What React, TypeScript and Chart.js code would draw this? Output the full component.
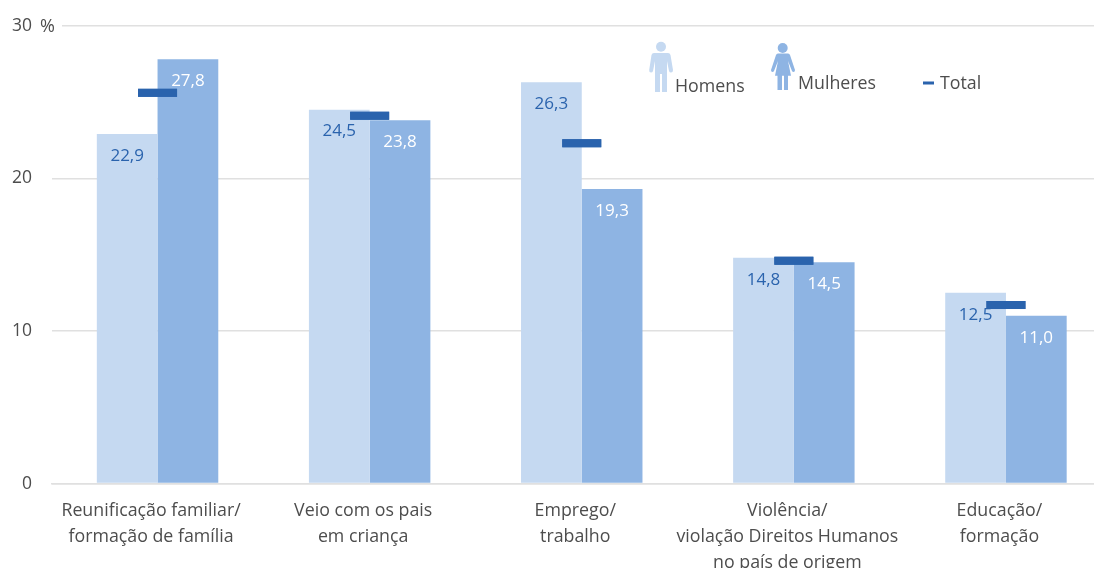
import React, { useEffect, useRef } from "react";
import { Chart, registerables } from "chart.js";

Chart.register(...registerables);

const categories = [
  ["Reunificação familiar/", "formação de família"],
  ["Veio com os pais", "em criança"],
  ["Emprego/", "trabalho"],
  ["Violência/", "violação Direitos Humanos", "no país de origem"],
  ["Educação/", "formação"],
];
const homens = [22.9, 24.5, 26.3, 14.8, 12.5];
const mulheres = [27.8, 23.8, 19.3, 14.5, 11.0];
const total = [25.6, 24.1, 22.3, 14.6, 11.7];
const yTicks = [0, 10, 20, 30];

const FONT = '"Open Sans", sans-serif';
const TEXT = "#4d4d4d";
const LIGHT = "#c5d9f1";
const MID = "#8eb4e3";
const DARK = "#2a63ad";
const GRID = "#e0e0e0";

const fmt = (v: number) => v.toFixed(1).replace(".", ",");

const decorations = {
  id: "decorations",
  afterDraw(chart: any) {
    const { ctx } = chart;
    ctx.save();
    // value labels inside the bars
    [0, 1].forEach((i) => {
      const meta = chart.getDatasetMeta(i);
      const data = chart.data.datasets[i].data as number[];
      ctx.font = `17px ${FONT}`;
      ctx.textAlign = "center";
      ctx.textBaseline = "middle";
      ctx.fillStyle = i === 0 ? DARK : "#ffffff";
      meta.data.forEach((el: any, k: number) => {
        ctx.fillText(fmt(data[k]), el.x, el.y + 22);
      });
    });
    // re-draw total markers on top of the labels
    const tm = chart.getDatasetMeta(2);
    tm.data.forEach((el: any) => {
      ctx.fillStyle = DARK;
      ctx.fillRect(el.x - 19.5, el.y - 4, 39, 8);
    });
    // percent sign on the top tick
    const yTop = chart.scales.y.getPixelForValue(30);
    ctx.fillStyle = "#ffffff";
    ctx.fillRect(36, yTop - 3, 26, 6);
    ctx.fillStyle = TEXT;
    ctx.font = `18px ${FONT}`;
    ctx.textAlign = "left";
    ctx.textBaseline = "middle";
    ctx.fillText("%", 40, yTop + 1);

    // legend
    ctx.fillStyle = LIGHT;
    ctx.beginPath();
    ctx.arc(661, 46.7, 5, 0, Math.PI * 2);
    ctx.fill();
    ctx.fill(new Path2D("M654 53 H668 Q670 53 670.5 55 L673 70 Q673 72.5 671 72.5 Q669.5 72.5 669 71 L667 61 V92 H662 V74 H660 V92 H655 V61 L653 71 Q652.5 72.5 651 72.5 Q649 72.5 649.2 70 L651.5 55 Q652 53 654 53 Z"));
    ctx.fillStyle = MID;
    ctx.beginPath();
    ctx.arc(782.7, 48, 5, 0, Math.PI * 2);
    ctx.fill();
    ctx.fill(new Path2D("M778 53.5 H788 Q789.5 53.5 790 55 L795 70 Q795 72 793.5 72 Q792.5 72 792 71 L788 61 L791 75.7 H788 V90 H784 V75.7 H782 V90 H777.5 V75.7 H775 L778 61 L774 71 Q773.5 72 772.5 72 Q771 72 771 70 L776 55 Q776.5 53.5 778 53.5 Z"));
    ctx.fillStyle = DARK;
    ctx.fillRect(923, 81.5, 11, 3);
    ctx.fillStyle = TEXT;
    ctx.font = `17.8px ${FONT}`;
    ctx.textAlign = "left";
    ctx.textBaseline = "middle";
    ctx.fillText(chart.data.datasets[0].label, 675, 87);
    ctx.fillText(chart.data.datasets[1].label, 798, 84);
    ctx.fillText(chart.data.datasets[2].label, 940, 84);
    ctx.restore();
  },
};

export default function App() {
  const ref = useRef<HTMLCanvasElement>(null);
  useEffect(() => {
    if (!ref.current) return;
    const chart = new Chart(ref.current, {
      type: "bar",
      data: {
        labels: categories,
        datasets: [
          { label: "Homens", data: homens, backgroundColor: LIGHT, order: 2 },
          { label: "Mulheres", data: mulheres, backgroundColor: MID, order: 2 },
          {
            type: "line",
            label: "Total",
            data: total,
            showLine: false,
            pointStyle: "line",
            pointRadius: 19.5,
            pointBorderWidth: 8,
            pointBorderColor: DARK,
            pointBackgroundColor: DARK,
            order: 1,
          },
        ] as any,
      },
      options: {
        responsive: false,
        animation: false,
        layout: { autoPadding: false, padding: { top: 25.7, left: 0, right: 0, bottom: 0 } },
        plugins: { legend: { display: false }, tooltip: { enabled: false } },
        datasets: { bar: { barPercentage: 1, categoryPercentage: 121.4 / 212 } },
        scales: {
          x: {
            grid: { display: false },
            border: { color: GRID, width: 1.5 },
            ticks: {
              color: TEXT,
              font: { family: FONT, size: 17.8, lineHeight: 1.46 },
              maxRotation: 0,
              autoSkip: false,
              padding: 6,
              labelOffset: -6.5,
            },
            afterFit: (s: any) => {
              s.height = 84.4;
              s.paddingLeft = 0;
              s.paddingRight = 0;
            },
          },
          y: {
            min: 0,
            max: 30,
            afterBuildTicks: (s: any) => {
              s.ticks = yTicks.map((value) => ({ value }));
            },
            grid: { color: GRID, lineWidth: 1.5, drawTicks: false },
            border: { display: false },
            ticks: {
              color: TEXT,
              font: { family: FONT, size: 17.5 },
              padding: 19.5,
            },
            afterFit: (s: any) => {
              s.width = 51.5;
              s.paddingTop = 0;
              s.paddingBottom = 0;
            },
          },
        },
      },
      plugins: [decorations],
    });
    return () => chart.destroy();
  }, []);
  return (
    <div style={{ position: "fixed", left: 0, top: 0, width: 1094, height: 568, overflow: "hidden", background: "#fff" }}>
      <div style={{ width: 1200, height: 568 }}>
        <canvas ref={ref} width={1112} height={568} style={{ display: "block" }} />
      </div>
    </div>
  );
}
